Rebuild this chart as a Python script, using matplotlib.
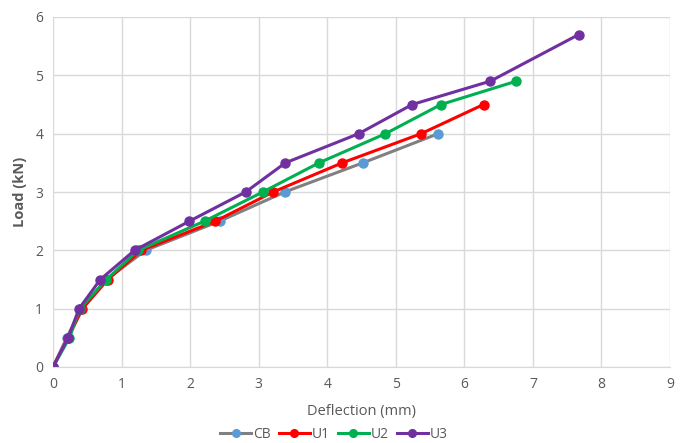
import matplotlib
matplotlib.use("Agg")
import matplotlib.pyplot as plt

plt.rcParams['font.family'] = ['Open Sans', 'DejaVu Sans']

load = [0, 0.5, 1.0, 1.5, 2.0, 2.5, 3.0, 3.5, 4.0, 4.5, 4.9, 5.7]

cb_defl = [0, 0.2, 0.41, 0.78, 1.35, 2.43, 3.38, 4.52, 5.62]
u1_defl = [0, 0.22, 0.43, 0.8, 1.29, 2.37, 3.21, 4.22, 5.37, 6.28]
u2_defl = [0, 0.24, 0.39, 0.78, 1.24, 2.21, 3.06, 3.88, 4.85, 5.66, 6.76]
u3_defl = [0, 0.22, 0.38, 0.69, 1.19, 1.99, 2.81, 3.39, 4.46, 5.24, 6.38, 7.67]

series = [
    ("CB", cb_defl, "#808080", "#5b9bd5"),
    ("U1", u1_defl, "#ff0000", "#ff0000"),
    ("U2", u2_defl, "#00b050", "#00b050"),
    ("U3", u3_defl, "#7030a0", "#7030a0"),
]

fig = plt.figure(figsize=(6.94, 4.43), dpi=100)
ax = fig.add_axes([53 / 694, 1 - 367 / 443, 617 / 694, 350 / 443])

for name, defl, lc, mc in series:
    ax.plot(defl, load[:len(defl)], color=lc, lw=2.2, marker="o", ms=6.5,
            markerfacecolor=mc, markeredgecolor=mc, label=name)

ax.set_xlim(0, 9)
ax.set_ylim(0, 6)
ax.set_xticks(range(0, 10))
ax.set_yticks(range(0, 7))
ax.grid(True, color="#d9d9d9", lw=1)
ax.set_axisbelow(True)
for s in ["top", "right", "left"]:
    ax.spines[s].set_visible(False)
ax.spines["bottom"].set_color("#d9d9d9")
ax.tick_params(length=0, colors="#595959", labelsize=10, pad=7)

ax.set_xlabel("Deflection (mm)", color="#595959", fontsize=10.5, labelpad=9)
ax.set_ylabel("Load (kN)", color="#595959", fontsize=10.5, fontweight="bold", labelpad=6)

ax.legend(loc="center", bbox_to_anchor=((334 - 53) / 617, -67 / 350), ncol=4, frameon=False,
          fontsize=10, labelcolor="#595959", handlelength=2.2, columnspacing=0.6,
          handletextpad=0.15, markerscale=0.85, borderpad=0.2)

fig.savefig("out.png", dpi=100)
